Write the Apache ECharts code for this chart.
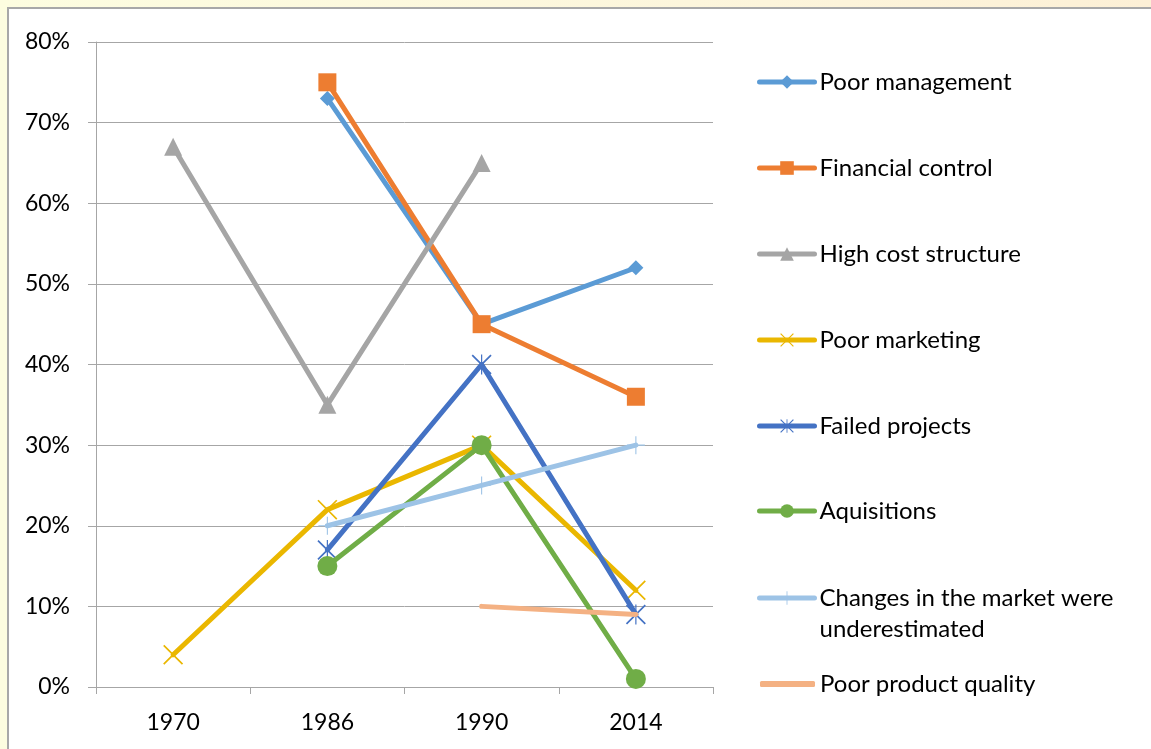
<!DOCTYPE html>
<html>
<head>
<meta charset="utf-8">
<script src="https://cdn.jsdelivr.net/npm/echarts@6/dist/echarts.min.js"></script>
<style>
html,body{margin:0;padding:0;}
body{width:1151px;height:749px;background:linear-gradient(90deg,#fdfde0 0%,#fdf6dc 60%,#fdf0d6 100%);position:relative;overflow:hidden;}
#box{position:absolute;left:7px;top:7px;width:1160px;height:760px;background:#fff;border-left:2px solid #a8a8a8;border-top:2px solid #a8a8a8;box-sizing:border-box;}
#chart{position:absolute;left:0;top:0;width:1151px;height:749px;}
</style>
</head>
<body>
<div id="box"></div>
<div id="chart"></div>
<script>
const categories = ['1970', '1986', '1990', '2014'];
const seriesNames = ['Poor management', 'Financial control', 'High cost structure', 'Poor marketing', 'Failed projects', 'Aquisitions', 'Changes in the market were underestimated', 'Poor product quality'];
const poorManagement = [null, 73, 45, 52];
const financialControl = [null, 75, 45, 36];
const highCostStructure = [67, 35, 65, null];
const poorMarketing = [4, 22, 30, 12];
const failedProjects = [null, 17, 40, 9];
const aquisitions = [null, 15, 30, 1];
const changesInMarket = [null, 20, 25, 30];
const poorProductQuality = [null, null, 10, 9];
const yTicks = [0, 10, 20, 30, 40, 50, 60, 70, 80];

const X_PATH = 'path://M0,6 L6,0 L50,44 L94,0 L100,6 L56,50 L100,94 L94,100 L50,56 L6,100 L0,94 L44,50 Z';
const STAR_PATH = 'path://M0,6 L6,0 L50,44 L94,0 L100,6 L56,50 L100,94 L94,100 L50,56 L6,100 L0,94 L44,50 Z M47,0 L53,0 L53,100 L47,100 Z';
const PLUS_PATH = 'path://M47,0 L53,0 L53,47 L100,47 L100,53 L53,53 L53,100 L47,100 L47,53 L0,53 L0,47 L47,47 Z';

const defs = [
  {data: poorManagement, color: '#5b9bd5', symbol: 'diamond', size: 15},
  {data: financialControl, color: '#ed7d31', symbol: 'rect', size: 18},
  {data: highCostStructure, color: '#a5a5a5', symbol: 'triangle', size: 18},
  {data: poorMarketing, color: '#eab700', symbol: X_PATH, size: 20},
  {data: failedProjects, color: '#4472c4', symbol: STAR_PATH, size: 20},
  {data: aquisitions, color: '#70ad47', symbol: 'circle', size: 20},
  {data: changesInMarket, color: '#9dc3e6', symbol: PLUS_PATH, size: 18},
  {data: poorProductQuality, color: '#f4b183', symbol: 'none', size: 0}
];

const font = 'Lato, "Open Sans", sans-serif';
const legendCenters = [82, 168, 254, 340, 426, 511, 598, 684];

const series = defs.map((d, i) => ({
  name: seriesNames[i],
  type: 'line',
  data: d.data,
  symbol: d.symbol,
  symbolSize: d.size,
  showAllSymbol: true,
  connectNulls: false,
  itemStyle: {color: d.color, opacity: 1},
  lineStyle: {color: d.color, width: 5, cap: 'round', join: 'round'},
  emphasis: {disabled: true},
  z: 2 + i
}));

const legends = seriesNames.map((n, i) => {
  const twoLine = i === 6;
  const noMarker = i === 7;
  const lh = twoLine ? 31 : 28;
  return {
    show: true,
    data: noMarker ? [{name: n, icon: 'roundRect'}] : [n],
    left: noMarker ? 760 : 757,
    top: noMarker ? legendCenters[i] - lh / 2 : legendCenters[i] - lh / 2 - (twoLine ? lh : 0),
    padding: 0,
    itemWidth: 55,
    itemHeight: noMarker ? 6 : 17,
    selectedMode: false,
    lineStyle: {width: 5, cap: 'round'},
    formatter: twoLine ? function(){ return '\nChanges in the market were\nunderestimated'; } : '{name}',
    textStyle: {fontFamily: font, fontSize: 24, color: '#000', lineHeight: lh}
  };
});

const chart = echarts.init(document.getElementById('chart'), null, {renderer: 'canvas'});
chart.setOption({
  backgroundColor: 'transparent',
  animation: false,
  grid: {left: 96, right: 438, top: 42, bottom: 62, containLabel: false},
  legend: legends,
  xAxis: {
    type: 'category',
    data: categories,
    boundaryGap: true,
    axisLine: {show: true, lineStyle: {color: '#a6a6a6', width: 1}},
    axisTick: {show: true, length: 7, interval: 0, alignWithLabel: false, lineStyle: {color: '#a6a6a6'}},
    axisLabel: {fontFamily: font, fontSize: 23, color: '#000', margin: 24}
  },
  yAxis: {
    type: 'value',
    min: yTicks[0],
    max: yTicks[yTicks.length - 1],
    interval: 10,
    axisLine: {show: true, lineStyle: {color: '#a6a6a6', width: 1}},
    axisTick: {show: true, length: 8, lineStyle: {color: '#a6a6a6'}},
    splitLine: {show: true, lineStyle: {color: '#a6a6a6', width: 1}},
    axisLabel: {fontFamily: font, fontSize: 23, color: '#000', margin: 26, formatter: '{value}%'}
  },
  series: series
});
</script>
</body>
</html>
